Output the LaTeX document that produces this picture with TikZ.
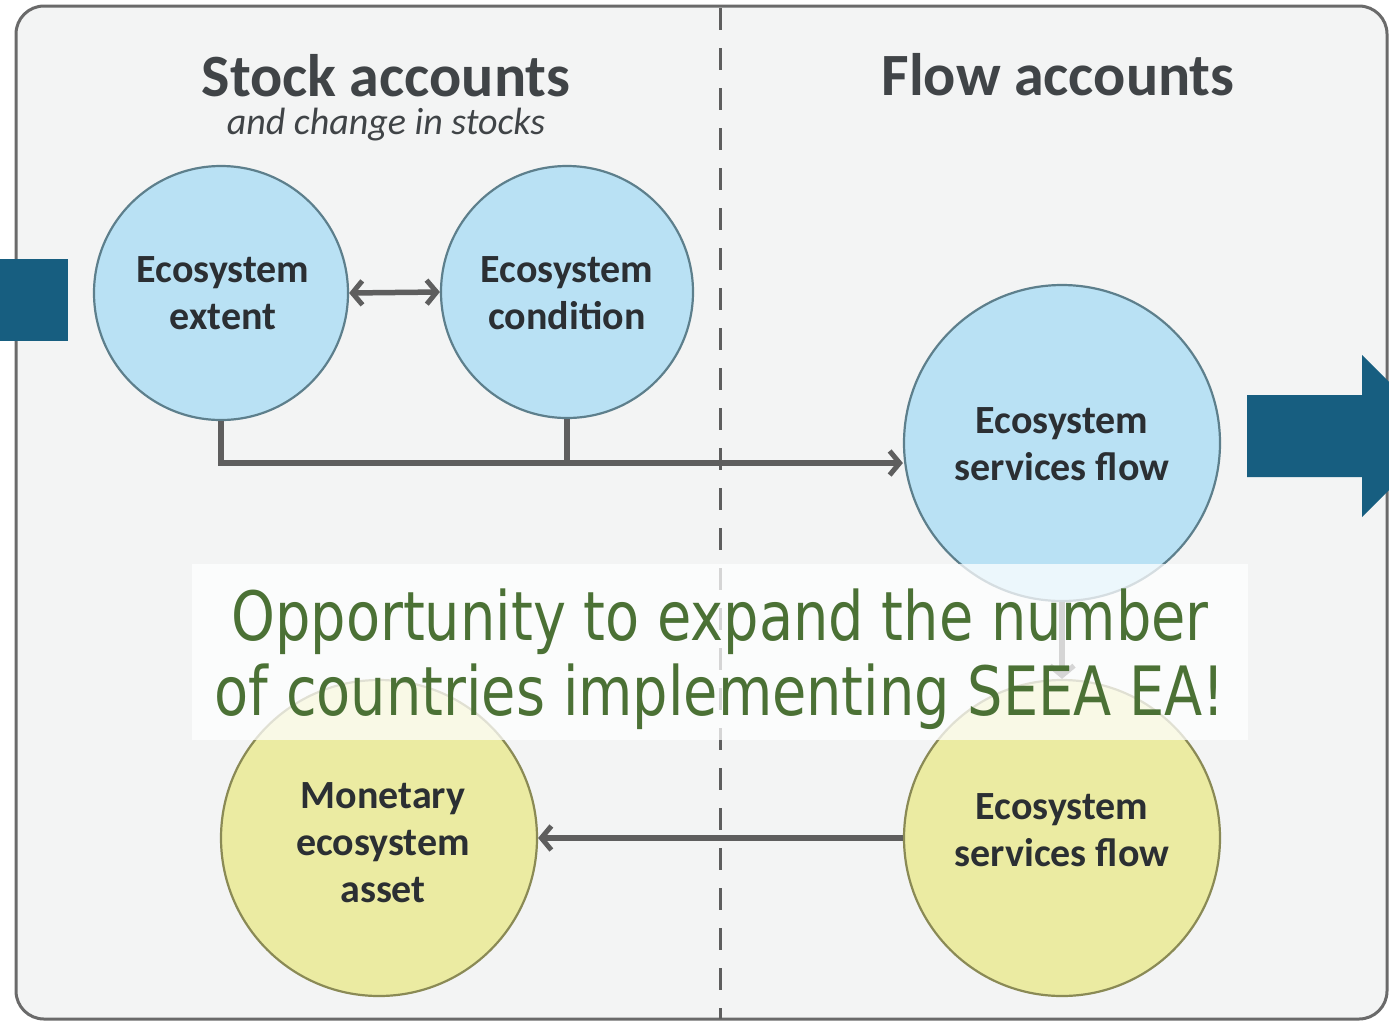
\documentclass[tikz,border=0pt]{standalone}
\usepackage{fontspec}
\setmainfont{Carlito}
\newfontfamily\ovfont[FakeStretch=0.82]{DejaVu Sans}
\usetikzlibrary{arrows.meta}
\definecolor{bgpanel}{HTML}{F3F4F4}
\definecolor{border}{HTML}{6A6A6A}
\definecolor{conn}{HTML}{5E5E5E}
\definecolor{bluefill}{HTML}{B9E1F4}
\definecolor{blueline}{HTML}{5D7F8C}
\definecolor{yelfill}{HTML}{EBEBA2}
\definecolor{yelline}{HTML}{8A8A55}
\definecolor{navy}{HTML}{175E80}
\definecolor{txt}{HTML}{2B2F33}
\definecolor{ovgreen}{HTML}{4B7135}
\tikzset{
  circbase/.style={circle, line width=2.2pt, minimum size=#1, inner sep=0pt},
  bluecirc/.style={circbase=#1, draw=blueline, fill=bluefill},
  yelcirc/.style={circbase=#1, draw=yelline, fill=yelfill},
  circtext/.style={align=center, inner sep=0pt, font=\fontsize{40}{47}\selectfont\bfseries, text=txt},
  link/.style={draw=conn, line width=5.5pt},
  barb/.tip={Straight Barb[length=10pt,width=24pt,line width=5pt]},
  tip/.style={-barb},
  title/.style={text=txt!90!white, anchor=base, inner sep=0pt, align=center},
}
\begin{document}
\begin{tikzpicture}[x=1pt,y=-1pt]
\useasboundingbox (0,0) rectangle (1389,1021);
\begin{scope}
\clip (0,0) rectangle (1389,1021);
% panel
\draw[draw=border, fill=bgpanel, line width=3pt, rounded corners=28pt] (16,6) rectangle (1387,1019);
% dashed divider
\draw[draw=conn, line width=3pt, dash pattern=on 22pt off 18pt] (720,8) -- (720,1019);
% titles
\node[title, font=\fontsize{38}{38}\selectfont] (st) at (386,134) {{\fontsize{60}{60}\selectfont\bfseries Stock accounts}\\{\itshape and change in stocks}};
\node[title, font=\fontsize{60}{60}\selectfont\bfseries] (ft) at (1058,95) {Flow accounts};
% circles
\node[bluecirc=254pt] (ext) at (221,293) {};
\node[bluecirc=252pt] (cond) at (567,292) {};
\node[bluecirc=316pt] (esf) at (1062,443) {};
\node[yelcirc=316pt] (mon) at (379,838) {};
\node[yelcirc=316pt] (esfy) at (1062,838) {};
\node[circtext] (extt) at (223,293) {Ecosystem\\extent};
\node[circtext] (condt) at (567,293) {Ecosystem\\condition};
\node[circtext] (esft) at (1062,444) {Ecosystem\\services flow};
\node[circtext] (mont) at (383,843) {Monetary\\ecosystem\\asset};
\node[circtext] (esfyt) at (1062,830) {Ecosystem\\services flow};
% connectors
\coordinate (j1) at (221,463);
\coordinate (j2) at (567,463);
\draw[link, barb-barb] (ext.east) -- (cond.west);
\draw[link] (ext.south) -- (j1) -- (j2);
\draw[link] (cond.south) -- (j2);
\draw[link, tip] (j2) -- (esf.west |- j2);
\draw[link, tip] (esf.south) -- (esfy.north);
\draw[link, tip] (esfy.west) -- (mon.east);
% side blocks
\fill[navy] (0,259) rectangle (68,341);
\fill[navy] (1247,395) -- (1362,395) -- (1362,355) -- (1443,436) -- (1362,517) -- (1362,477) -- (1247,477) -- cycle;
% overlay
\fill[white, opacity=0.74] (192,564) rectangle (1248,740);
\node[font=\ovfont\fontsize{68}{75}\selectfont, text=ovgreen, align=center, anchor=base, inner sep=0pt] (ov) at (720,715) {Opportunity to expand the number\\of countries implementing SEEA EA!};
\end{scope}
\end{tikzpicture}
\end{document}
